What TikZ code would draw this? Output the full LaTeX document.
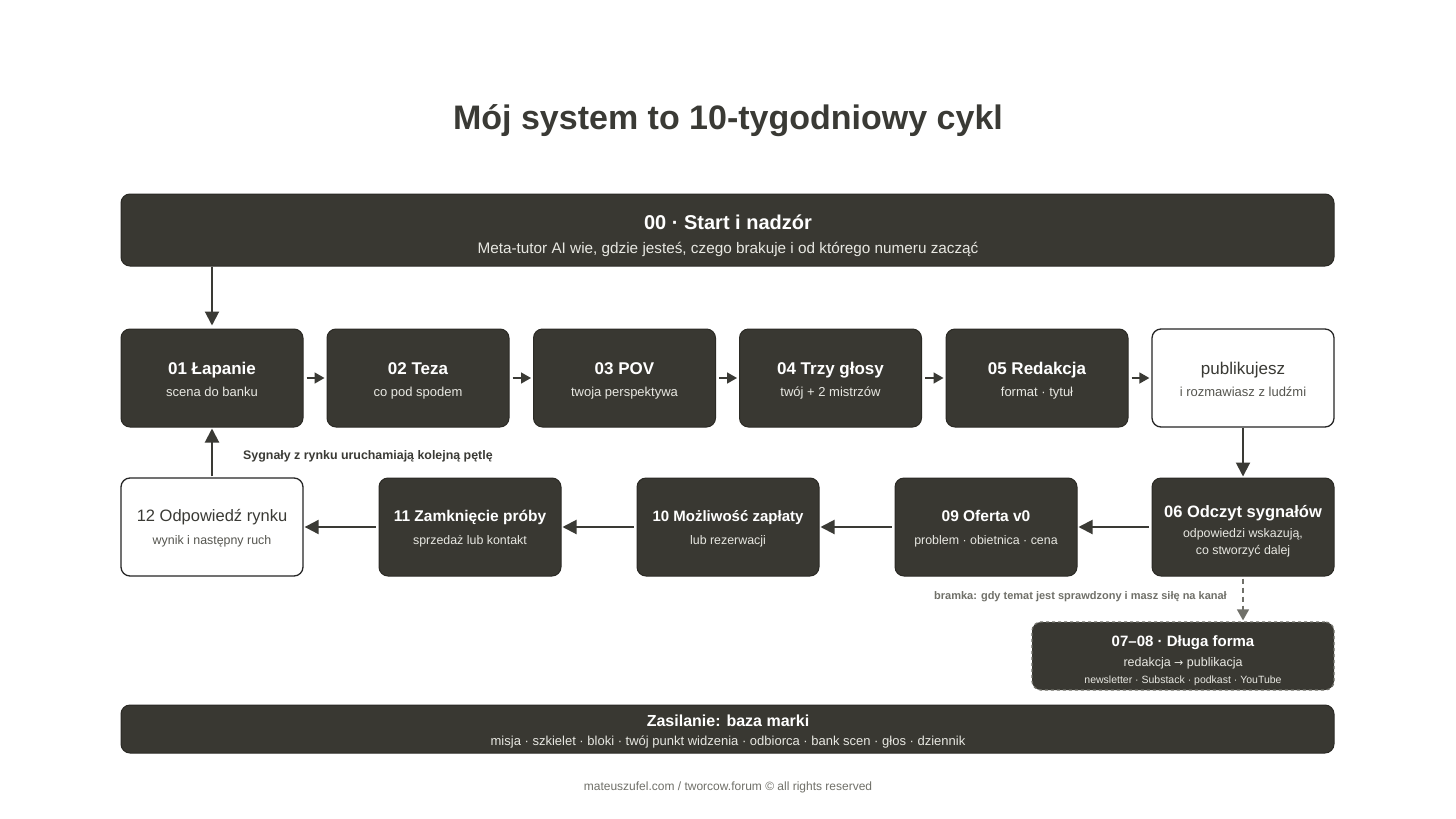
\documentclass[tikz,border=0pt]{standalone}
\usepackage{fontspec}
\setmainfont{Liberation Sans}
\newfontfamily\arrfont{DejaVu Sans}
\usetikzlibrary{arrows.meta}
\definecolor{dk}{HTML}{393832}
\definecolor{dkline}{HTML}{2B2A25}
\definecolor{txt}{HTML}{3A3A35}
\definecolor{subw}{HTML}{E8E8E2}
\definecolor{subg}{HTML}{55554F}
\definecolor{gry}{HTML}{707069}
\tikzset{
  box/.style={rectangle, rounded corners=9pt, minimum width=182pt, minimum height=98pt,
    inner sep=0pt, fill=dk, draw=dkline, line width=1pt},
  wbox/.style={box, fill=white, draw=black!85, line width=1.3pt},
  lbl/.style={inner sep=0pt, anchor=base},
  ttl/.style={lbl, text=white, font=\fontsize{17}{20}\selectfont\bfseries},
  ttlw/.style={lbl, text=txt, font=\fontsize{17}{20}\selectfont},
  sub/.style={lbl, text=subw, font=\fontsize{13}{16}\selectfont},
  subb/.style={lbl, text=subw, font=\fontsize{12.4}{15}\selectfont},
  subwb/.style={subb, text=subg},
  subwa/.style={sub, text=subg},
  arrA/.style={draw=txt, line width=1.6pt, -{Triangle[length=10pt,width=11pt]}, shorten <=3pt, shorten >=2pt},
  arrB/.style={draw=txt, line width=2pt, -{Triangle[length=14pt,width=14pt]}, shorten <=3pt, shorten >=1pt},
}
\begin{document}
\begin{tikzpicture}[x=1pt,y=-1pt]
\useasboundingbox[fill=white] (0,0) rectangle (1456,819);

\node[lbl, text=txt, font=\fontsize{34}{38}\selectfont\bfseries] (title) at (728,129) {Mój system to 10-tygodniowy cykl};

\node[box, minimum width=1213pt, minimum height=72pt] (top) at (727.5,230) {};
\node[lbl, text=white, font=\fontsize{20}{24}\selectfont\bfseries] (topt) at (728,229) {00 · Start i nadzór};
\node[lbl, text=subw, font=\fontsize{15.3}{18}\selectfont] (tops) at (728,253) {Meta-tutor AI wie, gdzie jesteś, czego brakuje i od którego numeru zacząć};

% row 1
\node[box] (b01) at (212,378) {};
\node[ttl] (b01t) at (212,374) {01 Łapanie};
\node[sub] (b01s) at (212,396) {scena do banku};
\node[box] (b02) at (418,378) {};
\node[ttl] (b02t) at (418,374) {02 Teza};
\node[sub] (b02s) at (418,396) {co pod spodem};
\node[box] (b03) at (624.5,378) {};
\node[ttl] (b03t) at (624.5,374) {03 POV};
\node[sub] (b03s) at (624.5,396) {twoja perspektywa};
\node[box] (b04) at (830.5,378) {};
\node[ttl] (b04t) at (830.5,374) {04 Trzy głosy};
\node[sub] (b04s) at (830.5,396) {twój + 2 mistrzów};
\node[box] (b05) at (1037,378) {};
\node[ttl] (b05t) at (1037,374) {05 Redakcja};
\node[sub] (b05s) at (1037,396) {format · tytuł};
\node[wbox] (pub) at (1243,378) {};
\node[ttlw] (pubt) at (1243,374) {publikujesz};
\node[subwa] (pubs) at (1243,396) {i rozmawiasz z ludźmi};

% row 2
\node[box] (b06) at (1243,527) {};
\node[ttl, font=\fontsize{16.5}{20}\selectfont\bfseries] (b06t) at (1243,517) {06 Odczyt sygnałów};
\node[subb] (b06s) at (1243,537) {odpowiedzi wskazują,};
\node[subb] (b06u) at (1243,554) {co stworzyć dalej};
\node[box] (b09) at (986,527) {};
\node[ttl, font=\fontsize{15.5}{20}\selectfont\bfseries] (b09t) at (986,521) {09 Oferta v0};
\node[subb] (b09s) at (986,544) {problem · obietnica · cena};
\node[box] (b10) at (728,527) {};
\node[ttl, font=\fontsize{15}{20}\selectfont\bfseries] (b10t) at (728,521) {10 Możliwość zapłaty};
\node[subb] (b10s) at (728,544) {lub rezerwacji};
\node[box] (b11) at (470,527) {};
\node[ttl, font=\fontsize{15.5}{20}\selectfont\bfseries] (b11t) at (470,521) {11 Zamknięcie próby};
\node[subb] (b11s) at (470,544) {sprzedaż lub kontakt};
\node[wbox] (b12) at (212,527) {};
\node[ttlw, font=\fontsize{16.5}{20}\selectfont] (b12t) at (212,521) {12 Odpowiedź rynku};
\node[subwb] (b12s) at (212,544) {wynik i następny ruch};

% long form
\node[box, minimum width=302pt, minimum height=68pt, draw=gry, dashed, line width=1.3pt] (b07) at (1183,656) {};
\node[lbl, text=white, font=\fontsize{15}{18}\selectfont\bfseries] (b07t) at (1183,646) {07–08 · Długa forma};
\node[lbl, text=subw, font=\fontsize{12.5}{15}\selectfont] (b07s) at (1183,666) {redakcja {\arrfont\fontsize{11}{13}\selectfont →} publikacja};
\node[lbl, text=subw, font=\fontsize{10.5}{13}\selectfont] (b07u) at (1183,683) {newsletter · Substack · podkast · YouTube};

% base
\node[box, minimum width=1213pt, minimum height=48pt] (base) at (727.5,729) {};
\node[lbl, text=white, font=\fontsize{16}{19}\selectfont\bfseries] (baset) at (728,726) {Zasilanie: baza marki};
\node[lbl, text=subw, font=\fontsize{13}{16}\selectfont] (bases) at (728,745) {misja · szkielet · bloki · twój punkt widzenia · odbiorca · bank scen · głos · dziennik};

% footer
\node[lbl, text=gry, font=\fontsize{12}{14}\selectfont] (foot) at (728,790) {mateuszufel.com / tworcow.forum © all rights reserved};

% connectors
\draw[arrB, shorten <=0pt, shorten >=3pt] (top.south -| b01.north) -- (b01.north);
\draw[arrA] (b01) -- (b02);
\draw[arrA] (b02) -- (b03);
\draw[arrA] (b03) -- (b04);
\draw[arrA] (b04) -- (b05);
\draw[arrA] (b05) -- (pub);
\draw[arrB, shorten <=0pt] (pub.south) -- (pub.south |- b06.north);
\draw[arrB] (b06) -- (b09);
\draw[arrB] (b09) -- (b10);
\draw[arrB] (b10) -- (b11);
\draw[arrB] (b11) -- (b12);
\draw[arrB, shorten <=1pt] (b12.north) -- (b01.south);
\node[lbl, anchor=base west, text=txt, font=\fontsize{12.4}{14}\selectfont\bfseries] (loop) at (243,459) {Sygnały z rynku uruchamiają kolejną pętlę};
\draw[draw=gry, line width=1.5pt, dash pattern=on 5pt off 4pt, -{Triangle[length=11pt,width=12pt]}, shorten <=2pt, shorten >=1pt] (b06.south) -- (b07.north -| b06.south);
\node[lbl, anchor=base east, text=gry, font=\fontsize{11}{13}\selectfont\bfseries] (gate) at (1227,599) {bramka: gdy temat jest sprawdzony i masz siłę na kanał};
\end{tikzpicture}
\end{document}
